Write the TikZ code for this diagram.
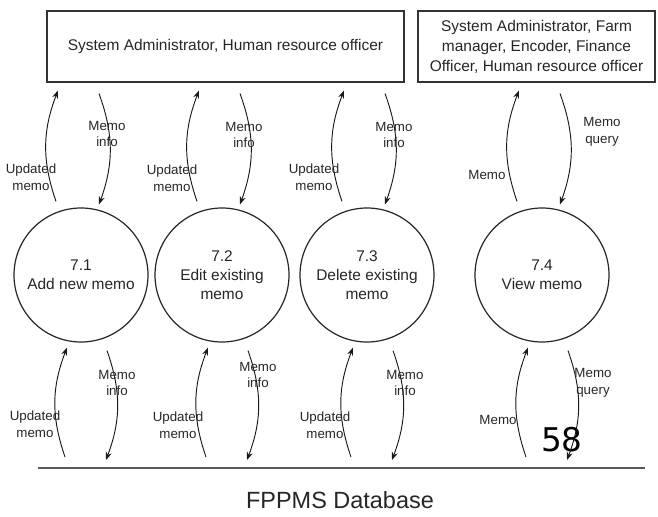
\documentclass[tikz,border=0pt]{standalone}
\usepackage{fontspec}
\setmainfont{Liberation Sans}
\newfontfamily\pgfont{DejaVu Sans}
\usetikzlibrary{positioning, arrows.meta, calc}

\begin{document}
\begin{tikzpicture}[
      x=0.75pt, y=-0.75pt,
      actor/.style={rectangle, draw=black!80, line width=0.8pt, minimum height=53.25pt,
        align=center, text=black!85, font=\fontsize{11.6}{15}\selectfont},
      proc/.style={circle, draw=black!85, line width=0.9pt, minimum size=100.5pt,
        align=center, text=black!85, font=\fontsize{11.6}{14.2}\selectfont},
      flowlabel/.style={align=center, text=black!85, inner sep=0pt,
        font=\fontsize{10}{12.7}\selectfont},
      flow/.style={-{Stealth[length=6pt,width=4.5pt]}, line width=0.7pt, black!90}
    ]
    \useasboundingbox (0,0) rectangle (658,517);
    % external entities
    \node[actor, minimum width=267.75pt] (sa) at (225.5,46.5)
      {System Administrator, Human resource officer};
    \node[actor, minimum width=177.75pt] (sb) at (536.5,46.5)
      {System Administrator, Farm\\manager, Encoder, Finance\\Officer, Human resource officer};
    % processes
    \node[proc] (p1) at (81,275) {7.1\\Add new memo};
    \node[proc] (p2) at (222,275) {7.2\\Edit existing\\memo};
    \node[proc] (p3) at (367,275) {7.3\\Delete existing\\memo};
    \node[proc] (p4) at (542,275) {7.4\\View memo};
    % data store
    \coordinate (dbl) at (38,468);
    \coordinate (dbr) at (645,468);
    \draw[line width=1.4pt, black!65] (dbl) -- (dbr);
    \node[text=black!85, font=\fontsize{17.6}{20}\selectfont] (db) at (340,500) {FPPMS Database};
    \node[font=\pgfont\fontsize{24.5}{26}\selectfont] (pg) at (562,440) {58};
    % flows to and from the entities
    \foreach \i/\b/\ux/\uy/\ut/\dx/\dy/\dt in {
        1/sa/-50/-98/{Updated\\memo}/26/-141/{Memo\\info},
        2/sa/-50/-97/{Updated\\memo}/22/-140/{Memo\\info},
        3/sa/-53/-98/{Updated\\memo}/27/-140/{Memo\\info},
        4/sb/-55/-100/{Memo}/60/-143/{Memo\\query}} {
      \draw[flow] ($(p\i.north)+(-25,-6)$) to[bend left=20] ($(p\i.north |- \b.south)+(-23,8)$);
      \draw[flow] ($(p\i.north |- \b.south)+(18,11)$) to[bend left=20] ($(p\i.north)+(18,-3)$);
      \node[flowlabel] (tu\i) at ($(p\i)+(\ux,\uy)$) {\ut};
      \node[flowlabel] (td\i) at ($(p\i)+(\dx,\dy)$) {\dt};
    }
    % flows to and from the data store
    \foreach \i/\ux/\uy/\ut/\dx/\dy/\dt in {
        1/-46/149/{Updated\\memo}/36/108/{Memo\\info},
        2/-44/150/{Updated\\memo}/36/100/{Memo\\info},
        3/-42/150/{Updated\\memo}/38/108/{Memo\\info},
        4/-44/145/{Memo}/51/108/{Memo\\query}} {
      \draw[flow] ($(p\i.south |- dbl)+(-16,-11)$) to[bend left=20] ($(p\i.south)+(-14,5)$);
      \draw[flow] ($(p\i.south)+(26,8)$) to[bend left=20] ($(p\i.south |- dbl)+(25,-8)$);
      \node[flowlabel] (bu\i) at ($(p\i)+(\ux,\uy)$) {\ut};
      \node[flowlabel] (bd\i) at ($(p\i)+(\dx,\dy)$) {\dt};
    }
  \end{tikzpicture}
\end{document}
